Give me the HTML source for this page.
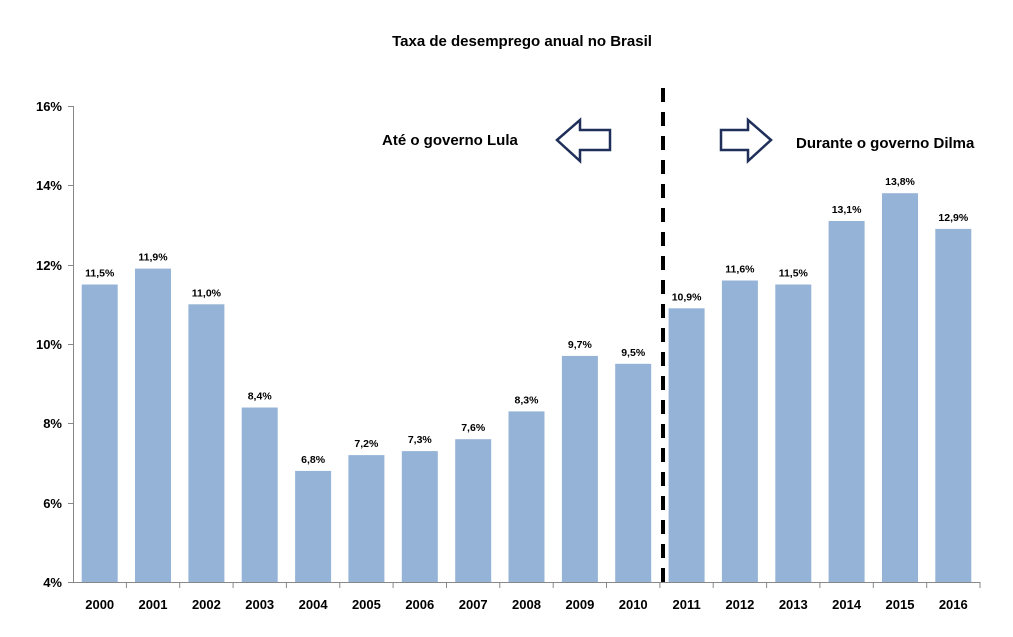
<!DOCTYPE html>
<html><head><meta charset="utf-8"><style>body{margin:0;background:#fff}</style></head><body>
<svg width="1013" height="632" xmlns="http://www.w3.org/2000/svg" font-family="Liberation Sans, sans-serif" font-weight="bold">
<rect width="1013" height="632" fill="#fff"/>
<text x="522" y="46" font-size="15" text-anchor="middle">Taxa de desemprego anual no Brasil</text>
<g stroke="#888" stroke-width="1">
<line x1="73.5" y1="106" x2="73.5" y2="582"/>
<line x1="73" y1="582.5" x2="980" y2="582.5"/>
<line x1="68" y1="106.5" x2="73" y2="106.5"/><line x1="68" y1="185.5" x2="73" y2="185.5"/><line x1="68" y1="265.5" x2="73" y2="265.5"/><line x1="68" y1="344.5" x2="73" y2="344.5"/><line x1="68" y1="423.5" x2="73" y2="423.5"/><line x1="68" y1="503.5" x2="73" y2="503.5"/><line x1="68" y1="582.5" x2="73" y2="582.5"/>
<line x1="126.4" y1="582" x2="126.4" y2="588"/><line x1="179.7" y1="582" x2="179.7" y2="588"/><line x1="233.1" y1="582" x2="233.1" y2="588"/><line x1="286.4" y1="582" x2="286.4" y2="588"/><line x1="339.8" y1="582" x2="339.8" y2="588"/><line x1="393.1" y1="582" x2="393.1" y2="588"/><line x1="446.5" y1="582" x2="446.5" y2="588"/><line x1="499.8" y1="582" x2="499.8" y2="588"/><line x1="553.2" y1="582" x2="553.2" y2="588"/><line x1="606.5" y1="582" x2="606.5" y2="588"/><line x1="659.9" y1="582" x2="659.9" y2="588"/><line x1="713.2" y1="582" x2="713.2" y2="588"/><line x1="766.6" y1="582" x2="766.6" y2="588"/><line x1="819.9" y1="582" x2="819.9" y2="588"/><line x1="873.3" y1="582" x2="873.3" y2="588"/><line x1="926.7" y1="582" x2="926.7" y2="588"/><line x1="980" y1="582" x2="980" y2="588"/>
</g>
<g font-size="13" text-anchor="end">
<text x="62" y="111">16%</text><text x="62" y="190">14%</text><text x="62" y="270">12%</text><text x="62" y="349">10%</text><text x="62" y="428">8%</text><text x="62" y="508">6%</text><text x="62" y="587">4%</text>
</g>
<g fill="#95b3d7">
<rect x="81.7" y="284.5" width="36" height="297.5"/>
<rect x="135.0" y="268.6" width="36" height="313.4"/>
<rect x="188.4" y="304.3" width="36" height="277.7"/>
<rect x="241.7" y="407.5" width="36" height="174.5"/>
<rect x="295.1" y="470.9" width="36" height="111.1"/>
<rect x="348.4" y="455.1" width="36" height="126.9"/>
<rect x="401.8" y="451.1" width="36" height="130.9"/>
<rect x="455.2" y="439.2" width="36" height="142.8"/>
<rect x="508.5" y="411.4" width="36" height="170.6"/>
<rect x="561.9" y="355.9" width="36" height="226.1"/>
<rect x="615.2" y="363.8" width="36" height="218.2"/>
<rect x="668.6" y="308.3" width="36" height="273.7"/>
<rect x="721.9" y="280.5" width="36" height="301.5"/>
<rect x="775.3" y="284.5" width="36" height="297.5"/>
<rect x="828.6" y="221.0" width="36" height="361.0"/>
<rect x="882.0" y="193.2" width="36" height="388.8"/>
<rect x="935.3" y="228.9" width="36" height="353.1"/>
</g>
<g font-size="10.5" text-anchor="middle">
<text x="99.7" y="276.5">11,5%</text>
<text x="153.0" y="260.6">11,9%</text>
<text x="206.4" y="296.3">11,0%</text>
<text x="259.7" y="399.5">8,4%</text>
<text x="313.1" y="462.9">6,8%</text>
<text x="366.4" y="447.1">7,2%</text>
<text x="419.8" y="443.1">7,3%</text>
<text x="473.2" y="431.2">7,6%</text>
<text x="526.5" y="403.4">8,3%</text>
<text x="579.9" y="347.9">9,7%</text>
<text x="633.2" y="355.8">9,5%</text>
<text x="686.6" y="300.3">10,9%</text>
<text x="739.9" y="272.5">11,6%</text>
<text x="793.3" y="276.5">11,5%</text>
<text x="846.6" y="213.0">13,1%</text>
<text x="900.0" y="185.2">13,8%</text>
<text x="953.3" y="220.9">12,9%</text>
</g>
<g font-size="13" text-anchor="middle">
<text x="99.7" y="609">2000</text><text x="153.0" y="609">2001</text><text x="206.4" y="609">2002</text><text x="259.7" y="609">2003</text><text x="313.1" y="609">2004</text><text x="366.4" y="609">2005</text><text x="419.8" y="609">2006</text><text x="473.2" y="609">2007</text><text x="526.5" y="609">2008</text><text x="579.9" y="609">2009</text><text x="633.2" y="609">2010</text><text x="686.6" y="609">2011</text><text x="739.9" y="609">2012</text><text x="793.3" y="609">2013</text><text x="846.6" y="609">2014</text><text x="900.0" y="609">2015</text><text x="953.3" y="609">2016</text>
</g>
<line x1="663" y1="88" x2="663" y2="582" stroke="#000" stroke-width="4" stroke-dasharray="14,10"/>
<path d="M557,140 L580,120 L580,130 L610,130 L610,150 L580,150 L580,161 Z" fill="#fff" stroke="#1f2f5a" stroke-width="2.5"/>
<path d="M771,140 L748,120 L748,130 L721,130 L721,150 L748,150 L748,161 Z" fill="#fff" stroke="#1f2f5a" stroke-width="2.5"/>
<text x="382" y="145" font-size="15">Até o governo Lula</text>
<text x="796" y="148" font-size="15">Durante o governo Dilma</text>
</svg>
</body></html>
